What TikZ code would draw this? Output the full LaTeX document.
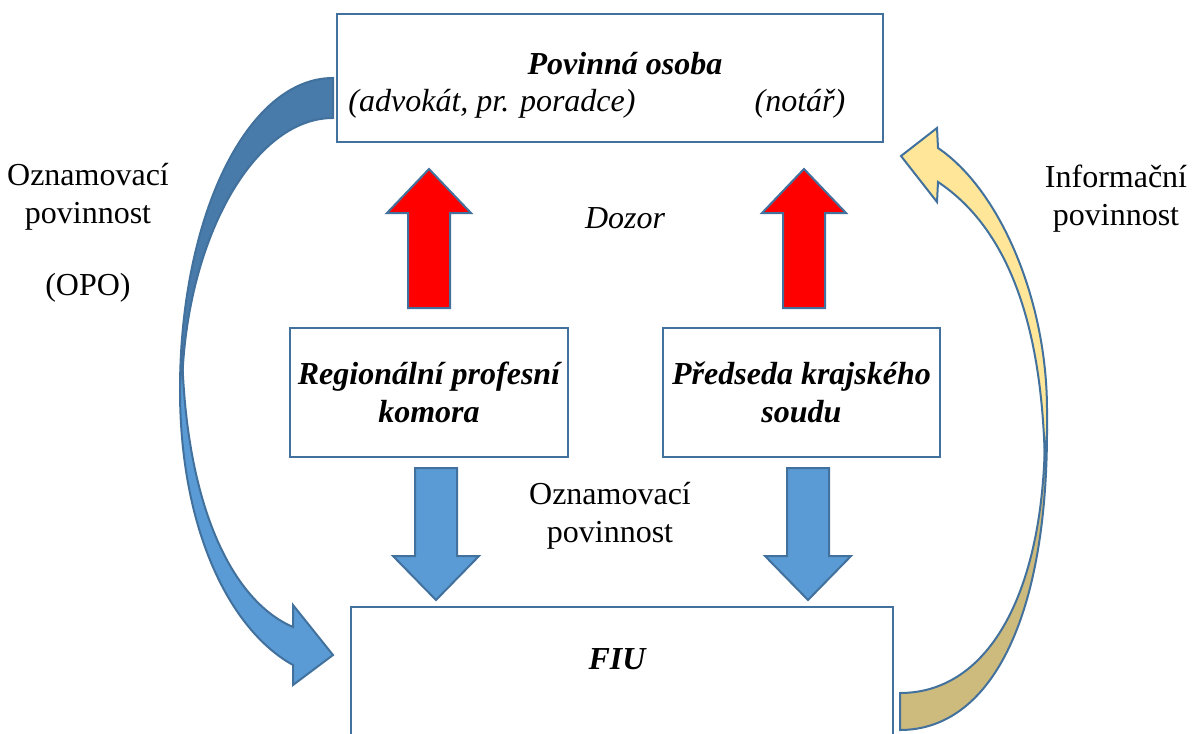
\documentclass[tikz,border=0pt]{standalone}
\usepackage{fontspec}
\setmainfont{Liberation Serif}
\usetikzlibrary{positioning}

\definecolor{boxblue}{RGB}{65,113,156}
\definecolor{arrowblue}{RGB}{91,155,213}
\definecolor{backblue}{RGB}{72,122,170}
\definecolor{frontyellow}{RGB}{255,230,153}
\definecolor{backtan}{RGB}{205,186,125}

\tikzstyle{diagram}=[x=0.5pt,y=-0.5pt,font=\fontsize{16}{19}\selectfont]
\tikzstyle{box}=[draw=boxblue,line width=1.3pt,inner sep=0pt]
\tikzstyle{title}=[font=\fontsize{16}{19}\selectfont\bfseries\itshape,align=center]
\tikzstyle{note}=[align=center]
\tikzstyle{italicnote}=[font=\fontsize{16}{19}\selectfont\itshape,align=center]
\tikzstyle{blockarrow}=[draw=boxblue,line width=1pt]
\tikzstyle{curved}=[draw=boxblue,line width=1pt]

\begin{document}
\begin{tikzpicture}[style=diagram]
\useasboundingbox (0,0) rectangle (1193,733);

% curved arrow on the left (reporting duty)
\filldraw[curved,fill=backblue] (333,78) .. controls (248,78) and (180,215) .. (180,390)
  -- (182,390) .. controls (184,244) and (252,118) .. (333,118) -- cycle;
\filldraw[curved,fill=arrowblue] (182,345) -- (180,390) .. controls (180,530) and (230,630) .. (293,665)
  -- (293,685) -- (333,655) -- (293,605) -- (293,627)
  .. controls (230,600) and (184,500) .. (182,345) -- cycle;

% curved arrow on the right (information duty)
\filldraw[curved,fill=backtan] (900,730) .. controls (990,730) and (1047,620) .. (1047,430)
  -- (1045,430) .. controls (1045,590) and (990,693) .. (900,693) -- cycle;
\filldraw[curved,fill=frontyellow] (1045,470) -- (1047,430) -- (1047,410)
  .. controls (1047,300) and (1000,190) .. (938,148)
  -- (937,128) -- (901,156) -- (937,202) -- (938,182)
  .. controls (995,220) and (1043,300) .. (1045,470) -- cycle;

% boxes
\node[box,minimum width=273pt,minimum height=64pt] (osoba) at (610,78) {};
\node[title] (osobatitle) at (625,64) {Povinná osoba};
\node[italicnote] (advokat) at (492,104) {(advokát, pr. poradce)};
\node[italicnote] (notar) at (800,104) {(notář)};

\node[box,title,minimum width=139pt,minimum height=64.5pt] (komora) at (429,392.5) {Regionální profesní\\komora};
\node[box,title,minimum width=138.5pt,minimum height=64.5pt] (soud) at (801.5,392.5) {Předseda krajského\\soudu};

\node[box,minimum width=271pt,minimum height=75pt] (fiu) at (622,682) {};
\node[title] (fiutitle) at (617,659) {FIU};

% block arrows
\foreach \cx in {429,804}
  \filldraw[blockarrow,fill=red] ({\cx-21},308) -- ({\cx-21},213) -- ({\cx-42},213) -- (\cx,169)
    -- ({\cx+42},213) -- ({\cx+21},213) -- ({\cx+21},308) -- cycle;
\foreach \cx in {436,808}
  \filldraw[blockarrow,fill=arrowblue] ({\cx-21},468) -- ({\cx+21},468) -- ({\cx+21},556) -- ({\cx+43},556)
    -- (\cx,600) -- ({\cx-43},556) -- ({\cx-21},556) -- cycle;

% labels
\node[italicnote] (dozor) at (625,218) {Dozor};
\node[note] (oznam) at (610,516) {Oznamovací\\povinnost};
\node[note] (opo) at (88,233) {Oznamovací\\povinnost\\[17pt](OPO)};
\node[note] (info) at (1116,199) {Informační\\povinnost};
\end{tikzpicture}
\end{document}
